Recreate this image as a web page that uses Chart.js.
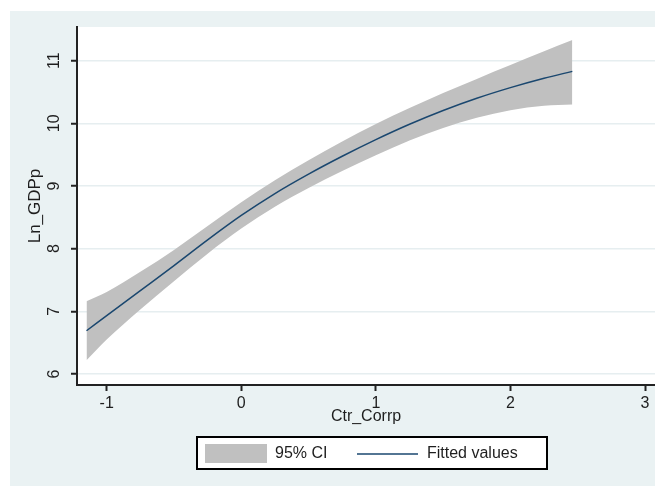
<!DOCTYPE html>
<html>
<head>
<meta charset="utf-8">
<script src="https://cdn.jsdelivr.net/npm/chart.js@4.4.1/dist/chart.umd.min.js"></script>
<style>
  html, body { margin: 0; padding: 0; background: #fff; }
  #wrap { width: 655px; height: 486px; }
</style>
</head>
<body>
<div id="wrap"><canvas id="chartFit" width="655" height="486"></canvas></div>
<script>
// values
const ctrCorrp = [-1.15, -1.0, -0.75, -0.5, -0.25, 0, 0.25, 0.5, 0.75, 1.0, 1.25, 1.5, 1.75, 2.0, 2.25, 2.46];
const fitted   = [6.69, 6.93, 7.33, 7.73, 8.14, 8.53, 8.88, 9.19, 9.475, 9.74, 9.985, 10.205, 10.40, 10.57, 10.72, 10.83];
const ciUpper  = [7.16, 7.31, 7.63, 7.98, 8.36, 8.74, 9.09, 9.41, 9.71, 9.99, 10.245, 10.485, 10.71, 10.93, 11.15, 11.33];
const ciLower  = [6.22, 6.55, 7.03, 7.48, 7.92, 8.32, 8.67, 8.97, 9.24, 9.49, 9.725, 9.925, 10.09, 10.21, 10.28, 10.30];
const yTicks = [6, 7, 8, 9, 10, 11];
const legendLabels = ['95% CI', 'Fitted values'];

const FONT = '"Liberation Sans", Arial, sans-serif';
const TEXT = '#1e1e1e';
const PANEL = '#eaf2f3';
const BAND = '#c0c0c0';
const NAVY = '#1a476f';

const toPoints = ys => ctrCorrp.map((x, i) => ({ x: x, y: ys[i] }));

// background panel + white plot region
const background = {
  id: 'background',
  beforeDraw(chart) {
    const { ctx, chartArea: a, width, height } = chart;
    ctx.save();
    ctx.fillStyle = '#fff';
    ctx.fillRect(0, 0, width, height);
    ctx.fillStyle = PANEL;
    ctx.fillRect(10, 11, width - 10, height - 11);
    ctx.fillStyle = '#fff';
    ctx.fillRect(a.left, a.top, a.right - a.left, a.bottom - a.top);
    ctx.restore();
  }
};

// stata style vertical y tick labels + boxed legend
const extras = {
  id: 'extras',
  afterDraw(chart) {
    const { ctx } = chart;
    const y = chart.scales.y;
    ctx.save();
    ctx.fillStyle = TEXT;
    ctx.font = '16px ' + FONT;
    ctx.textAlign = 'center';
    ctx.textBaseline = 'middle';
    yTicks.forEach(v => {
      ctx.save();
      ctx.translate(55, y.getPixelForValue(v));
      ctx.rotate(-Math.PI / 2);
      ctx.fillText(String(v), 0, 0);
      ctx.restore();
    });

    // legend
    ctx.fillStyle = '#fff';
    ctx.fillRect(197, 437, 350, 32);
    ctx.strokeStyle = '#000';
    ctx.lineWidth = 2;
    ctx.strokeRect(197, 437, 350, 32);
    ctx.fillStyle = BAND;
    ctx.fillRect(205, 444, 62, 19);
    ctx.strokeStyle = NAVY;
    ctx.lineWidth = 1.5;
    ctx.beginPath();
    ctx.moveTo(357, 454);
    ctx.lineTo(418, 454);
    ctx.stroke();
    ctx.fillStyle = TEXT;
    ctx.textAlign = 'left';
    ctx.fillText(legendLabels[0], 275, 454);
    ctx.fillText(legendLabels[1], 427, 454);
    ctx.restore();
  }
};

Chart.defaults.font.family = FONT;
Chart.defaults.font.size = 16;
Chart.defaults.color = TEXT;

const chartFit = new Chart(document.getElementById('chartFit').getContext('2d'), {
  type: 'line',
  data: {
    datasets: [
      {
        label: legendLabels[1],
        data: toPoints(fitted),
        borderColor: NAVY,
        borderWidth: 1.5,
        pointRadius: 0,
        fill: false,
        cubicInterpolationMode: 'monotone',
        order: 0
      },
      {
        label: legendLabels[0],
        data: toPoints(ciUpper),
        borderWidth: 0,
        borderColor: BAND,
        backgroundColor: BAND,
        pointRadius: 0,
        fill: '+1',
        cubicInterpolationMode: 'monotone',
        order: 1
      },
      {
        label: 'lower',
        data: toPoints(ciLower),
        borderWidth: 0,
        borderColor: BAND,
        pointRadius: 0,
        fill: false,
        cubicInterpolationMode: 'monotone',
        order: 2
      }
    ]
  },
  options: {
    responsive: false,
    animation: false,
    layout: { padding: { top: 27, right: 0, bottom: 55, left: 0 } },
    plugins: {
      legend: { display: false },
      tooltip: { enabled: false }
    },
    scales: {
      x: {
        type: 'linear',
        min: -1.2207,
        max: 3.0743,
        afterFit(scale) { scale.height = 46; },
        border: { color: '#222', width: 2 },
        grid: { drawOnChartArea: false, drawTicks: true, tickLength: 6, tickColor: '#222', tickWidth: 2 },
        ticks: { stepSize: 1, includeBounds: false, padding: 3, color: TEXT },
        title: { display: true, text: 'Ctr_Corrp', color: TEXT, font: { size: 16 }, padding: { top: 0, bottom: 5 } }
      },
      y: {
        type: 'linear',
        min: 5.824,
        max: 11.538,
        afterFit(scale) { scale.width = 77; },
        border: { color: '#222', width: 2 },
        grid: { color: '#e6eef0', lineWidth: 1.5, drawTicks: true, tickLength: 6, tickColor: '#222', tickWidth: 2 },
        ticks: { stepSize: 1, includeBounds: false, display: false },
        title: { display: true, text: 'Ln_GDPp', color: TEXT, font: { size: 17 }, padding: { top: 25, bottom: 0 } }
      }
    }
  },
  plugins: [background, extras]
});
</script>
</body>
</html>
